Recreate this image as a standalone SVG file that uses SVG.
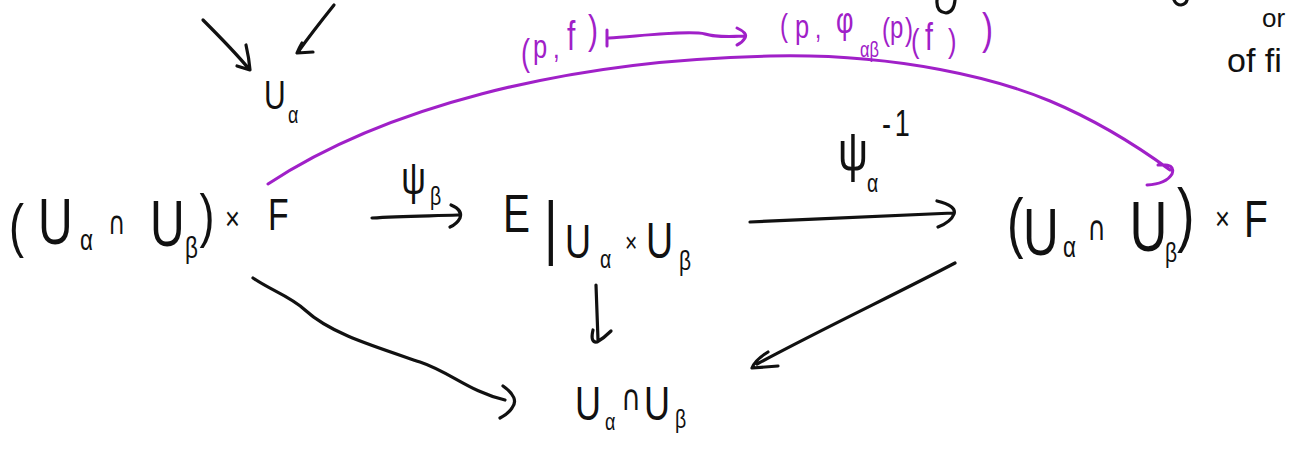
<svg xmlns="http://www.w3.org/2000/svg" width="1290" height="451" viewBox="0 0 1290 451">
<style>
.k{fill:none;stroke:#111;stroke-width:3.2;stroke-linecap:round;stroke-linejoin:round}
.p{fill:none;stroke:#a020c8;stroke-width:3;stroke-linecap:round;stroke-linejoin:round}
text{font-family:"Liberation Sans",Arial,sans-serif;fill:#111}
text.pt{fill:#a020c8}
.cap{font-family:"DejaVu Sans",sans-serif}
</style>
<rect width="1290" height="451" fill="#fff"/>
<g id="connectors">
<path class="k" d="M203,20 C215,32 235,52 249,69 M246,45 Q249,58 250,70 L237,66"/>
<path class="k" d="M334,5 C322,20 308,38 298,52 M302,43 Q299,48 297,53 L313,52"/>
<path class="k" d="M372,218 C400,216 430,216 458,215 M451,205 Q463,210 460,218 Q457,224 450,227"/>
<path class="k" d="M750,222 C820,219 900,215 953,213 M937,201 Q957,206 954,214 Q951,222 938,227"/>
<path class="k" d="M253,278 C270,290 290,296 305,310 C330,333 370,345 420,362 C450,372 470,392 505,400 M503,386 Q520,398 512,408 Q508,414 500,418"/>
<path class="k" d="M596,285 L598,340 M593,330 Q590,343 597,342 Q604,338 611,331"/>
<path class="k" d="M955,263 C900,292 820,330 757,364 M768,352 Q755,360 752,368 L778,366"/>
<path class="p" d="M268,184 C380,110 560,60 770,56 C900,53 1000,80 1050,101 C1100,122 1140,148 1170,170 M1158,165 Q1176,163 1172,174 Q1166,184 1147,185"/>
<path class="p" d="M607,30 L607,46 M609,38 C640,36 690,30 705,34 C715,37 725,37 744,36 M737,28 Q748,33 745,38 Q742,43 737,45"/>
<path class="k" d="M937,0 Q936,12 946,13 Q954,12 955,0 M1174,0 Q1176,5 1181,5 Q1186,4 1187,0"/>
</g>
<g id="node-Ua">
<text transform="scale(.75 1)"><tspan x="352" y="109" font-size="40">U</tspan><tspan x="384" y="123" font-size="24">α</tspan></text>
</g>
<g id="node-A">
<text transform="scale(.75 1)"><tspan x="12" y="246" font-size="60">(</tspan><tspan x="50.7" y="244" font-size="64">U</tspan><tspan x="106.7" y="250" font-size="30">α</tspan><tspan class="cap" x="144" y="234" font-size="32">∩</tspan><tspan x="200" y="246" font-size="64">U</tspan><tspan x="246.7" y="258" font-size="30">β</tspan><tspan x="266" y="236" font-size="60">)</tspan><tspan x="300" y="230" font-size="34">×</tspan><tspan x="357.3" y="230" font-size="45">F</tspan></text>
</g>
<g id="node-B">
<text transform="scale(.75 1)"><tspan x="670.7" y="232" font-size="54">E</tspan><tspan x="725.3" y="251" font-size="70">|</tspan><tspan x="753.3" y="258" font-size="48">U</tspan><tspan x="800" y="268" font-size="26">α</tspan><tspan x="833.3" y="252" font-size="28">×</tspan><tspan x="861.3" y="258" font-size="50">U</tspan><tspan x="905.3" y="270" font-size="28">β</tspan></text>
</g>
<g id="node-C">
<text transform="scale(.75 1)"><tspan x="1342.7" y="245" font-size="66">(</tspan><tspan x="1364" y="255" font-size="66">U</tspan><tspan x="1417.3" y="257" font-size="30">α</tspan><tspan class="cap" x="1450" y="240" font-size="34">∩</tspan><tspan x="1506" y="251" font-size="70">U</tspan><tspan x="1553.3" y="262" font-size="28">β</tspan><tspan x="1569.3" y="238" font-size="70">)</tspan><tspan x="1620" y="230" font-size="34">×</tspan><tspan x="1658.7" y="237" font-size="52">F</tspan></text>
</g>
<g id="node-D">
<text transform="scale(.75 1)"><tspan x="766.7" y="420" font-size="48">U</tspan><tspan x="806.7" y="430" font-size="24">α</tspan><tspan class="cap" x="828" y="410" font-size="36">∩</tspan><tspan x="858.7" y="420" font-size="48">U</tspan><tspan x="900" y="428" font-size="26">β</tspan></text>
</g>
<g id="label-psi-beta">
<text transform="scale(.75 1)"><tspan x="535" y="194" font-size="46">ψ</tspan><tspan x="573.3" y="205" font-size="26">β</tspan></text>
</g>
<g id="label-psi-alpha-inv">
<text transform="scale(.75 1)"><tspan x="1117.3" y="170" font-size="56">ψ</tspan><tspan x="1156" y="192" font-size="26">α</tspan><tspan x="1176" y="136" font-size="36" letter-spacing="5">-1</tspan></text>
</g>
<g id="label-pf">
<text class="pt" transform="scale(.75 1)"><tspan x="694.7" y="65" font-size="36">(</tspan><tspan x="710.7" y="58" font-size="34">p</tspan><tspan x="737.3" y="58" font-size="32">,</tspan><tspan x="756" y="50" font-size="40">f</tspan><tspan x="784" y="44" font-size="40">)</tspan></text>
</g>
<g id="label-image">
<text class="pt" transform="scale(.75 1)"><tspan x="1040" y="36" font-size="32">(</tspan><tspan x="1060" y="38" font-size="34">p</tspan><tspan x="1086.7" y="38" font-size="30">,</tspan><tspan x="1114.7" y="33" font-size="36">φ</tspan><tspan x="1146.7" y="57" font-size="22">αβ</tspan><tspan x="1176" y="40" font-size="32">(</tspan><tspan x="1186.7" y="38" font-size="32">p</tspan><tspan x="1206.7" y="40" font-size="32">)</tspan><tspan x="1214.7" y="52" font-size="34">(</tspan><tspan x="1233.3" y="50" font-size="38">f</tspan><tspan x="1264" y="52" font-size="34">)</tspan><tspan x="1309.3" y="44" font-size="44">)</tspan></text>
</g>
<g id="note">
<text font-size="26" x="1262" y="27">or</text>
<text font-size="34" x="1227" y="72">of<tspan dx="0"> fi</tspan></text>
</g>
</svg>
